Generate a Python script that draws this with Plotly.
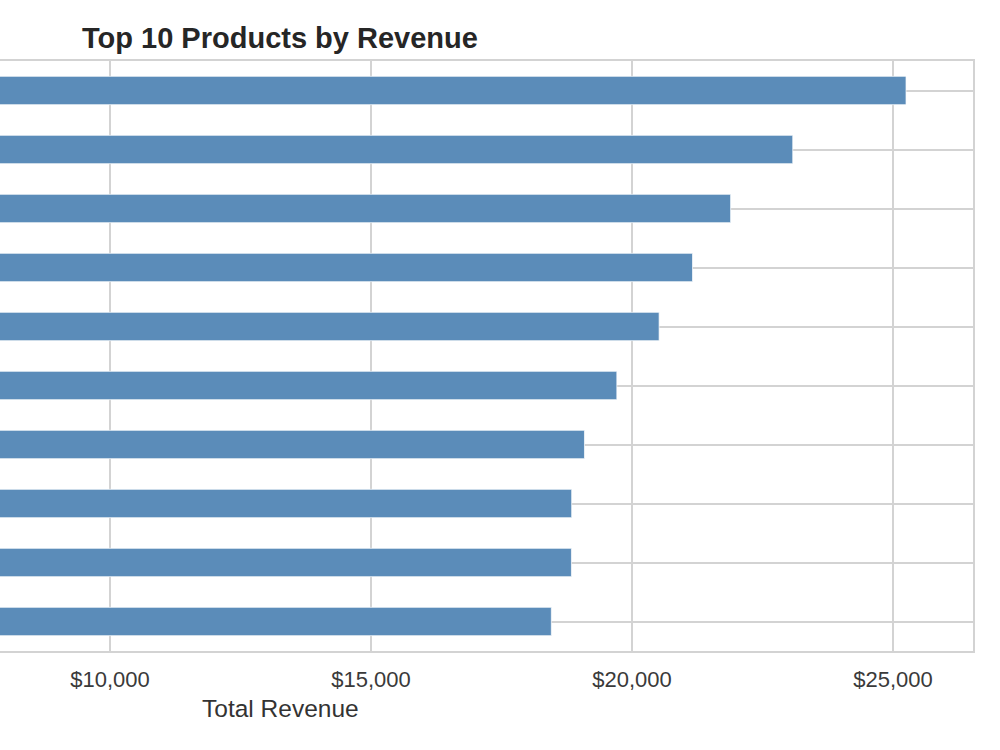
import plotly.graph_objects as go

products = ["Product A", "Product B", "Product C", "Product D", "Product E",
            "Product F", "Product G", "Product H", "Product I", "Product J"]
revenue = [25250, 23080, 21890, 21160, 20520, 19710, 19090, 18845, 18840, 18455]
tick_vals = [10000, 15000, 20000, 25000]
tick_text = ["$10,000", "$15,000", "$20,000", "$25,000"]

FONT = "Liberation Sans, Arial, Helvetica, sans-serif"
GRID = "#d3d3d3"

fig = go.Figure(go.Bar(
    x=revenue, y=products, orientation="h", width=0.48,
    marker=dict(color="rgb(91,140,185)", line=dict(color="rgba(255,255,255,0.7)", width=1)),
    showlegend=False,
))

fig.update_layout(
    width=1000, height=750,
    margin=dict(l=0, r=27, t=61, b=99),
    paper_bgcolor="white", plot_bgcolor="white",
    font=dict(family=FONT, color="#333333"),
    xaxis=dict(
        range=[7893, 26533], tickvals=tick_vals, ticktext=tick_text,
        showgrid=True, gridcolor=GRID, gridwidth=2,
        tickfont=dict(size=22, color="#3a3a3a"), ticks="", ticklen=0,
        ticklabelstandoff=8,
        showline=True, linecolor=GRID, linewidth=2, mirror=True,
        zeroline=False,
    ),
    yaxis=dict(
        categoryorder="array", categoryarray=products[::-1],
        range=[-0.5, 9.5],
        showticklabels=False, showgrid=True, gridcolor=GRID, gridwidth=2,
        showline=True, linecolor=GRID, linewidth=2, mirror=True,
        zeroline=False,
    ),
    annotations=[
        dict(text="<b>Top 10 Products by Revenue</b>", xref="paper", yref="paper",
             x=280 / 973, y=1, yshift=23, xanchor="center", yanchor="middle",
             showarrow=False, font=dict(size=29, color="#262626", family=FONT)),
        dict(text="Total Revenue", xref="paper", yref="paper",
             x=280 / 973, y=0, yshift=-57, xanchor="center", yanchor="middle",
             showarrow=False, font=dict(size=24.5, color="#333333", family=FONT)),
    ],
)

fig.write_html("out.html")
